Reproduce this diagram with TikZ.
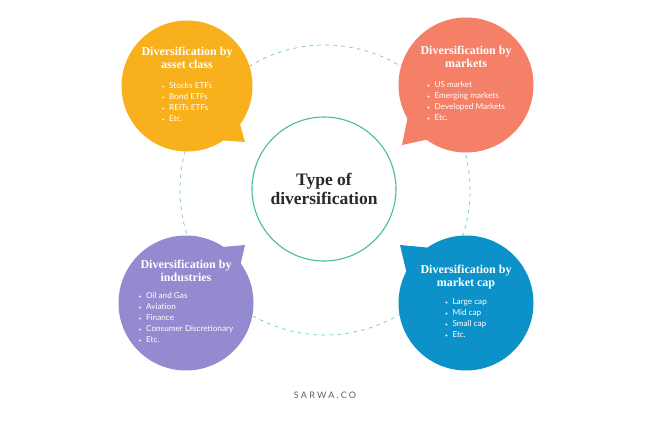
\documentclass[tikz,border=0pt]{standalone}
\usepackage{fontspec}
\setmainfont{Lato}
\newfontfamily\headfont{Liberation Serif}
\usetikzlibrary{positioning}
\definecolor{dvYellow}{RGB}{248,176,28}
\definecolor{dvSalmon}{RGB}{245,128,104}
\definecolor{dvPurple}{RGB}{148,138,208}
\definecolor{dvBlue}{RGB}{12,146,200}
\definecolor{dvTeal}{RGB}{72,190,150}
\definecolor{dvInk}{RGB}{40,40,45}
\newcommand{\itm}[1]{{\tiny\raisebox{0.4pt}{\textbullet}}\hspace{4.5pt}#1}
\newcommand{\itmlist}[1]{{\normalfont\fontsize{8.2}{11}\selectfont\begin{tabular}[t]{@{}l@{}}#1\end{tabular}}}

\begin{document}
\begin{tikzpicture}[
  x=1pt, y=-1pt,
  bubble/.style={circle, inner sep=0pt, minimum size=135pt, align=center, text=white,
    font=\headfont\bfseries\fontsize{12}{13}\selectfont},
  hub/.style={circle, draw=dvTeal, line width=1.1pt, minimum size=144pt, align=center,
    text=dvInk, font=\headfont\bfseries\fontsize{17.5}{18.5}\selectfont},
  ring/.style={draw=dvTeal!80, line width=0.7pt, dash pattern=on 3.5pt off 4.5pt}
]
\useasboundingbox[fill=white] (0,0) rectangle (650,420);

% dashed ring behind everything
\draw[ring] (325,190) circle (145pt);

% centre
\node[hub] (hub) at (324,189) {Type of\\diversification};

% tail tips
\coordinate (tipA) at (245,142);
\coordinate (tipM) at (402,145);
\coordinate (tipI) at (245,245);
\coordinate (tipC) at (400,245);

% bubbles
\node[bubble, fill=dvYellow, minimum size=131pt] (asset) at (187,86) {};
\node[bubble, fill=dvSalmon] (markets) at (466,85) {};
\node[bubble, fill=dvPurple] (industries) at (186,303) {};
\node[bubble, fill=dvBlue] (mcap) at (466,303) {};

% speech tails
\fill[dvYellow] (asset.-36) -- (tipA) -- (asset.-56) -- (asset.center) -- cycle;
\fill[dvSalmon] (markets.-126) -- (tipM) -- (markets.-150) -- (markets.center) -- cycle;
\fill[dvPurple] (industries.56) -- (tipI) -- (industries.36) -- (industries.center) -- cycle;
\fill[dvBlue] (mcap.125) -- (tipC) -- (mcap.152) -- (mcap.center) -- cycle;

% texts
\node[bubble] at (asset) {Diversification by\\asset class\\[7pt]
  \itmlist{\itm{Stocks ETFs}\\\itm{Bond ETFs}\\\itm{REITs ETFs}\\\itm{Etc.}}};
\node[bubble] at (markets) {Diversification by\\markets\\[7pt]
  \itmlist{\itm{US market}\\\itm{Emerging markets}\\\itm{Developed Markets}\\\itm{Etc.}}};
\node[bubble] at (industries) {Diversification by\\industries\\[4pt]
  \itmlist{\itm{Oil and Gas}\\\itm{Aviation}\\\itm{Finance}\\\itm{Consumer Discretionary}\\\itm{Etc.}}};
\node[bubble] at (mcap) {Diversification by\\market cap\\[5pt]
  \itmlist{\itm{Large cap}\\\itm{Mid cap}\\\itm{Small cap}\\\itm{Etc.}}};

% footer
\node[text=dvInk!75, font=\fontsize{9}{10}\selectfont] (brand) at (325,395)
  {\addfontfeature{LetterSpace=25}SARWA.CO};

\end{tikzpicture}
\end{document}
